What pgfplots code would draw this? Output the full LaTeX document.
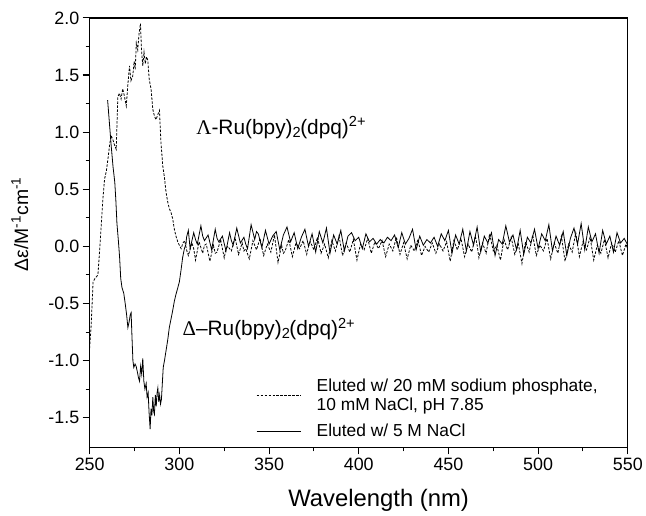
\documentclass[border=0pt]{standalone}
\usepackage{fontspec}
\setmainfont{Liberation Sans}
\newfontfamily\serifgreek{Liberation Serif}
\usepackage{pgfplots}
\pgfplotsset{compat=1.18}
\begin{document}
\begin{tikzpicture}
\begin{axis}[
  scale only axis,
  width=540bp, height=431bp,
  xmin=250, xmax=550, ymin=-1.76, ymax=2.0,
  xtick={250,300,...,550},
  ytick={-1.5,-1.0,...,2.0},
  minor x tick num=1, minor y tick num=1,
  tick pos=left, tick align=outside,
  major tick length=7bp, minor tick length=4bp,
  every tick/.style={black, line width=1.1bp},
  axis line style={line width=1.3bp},
  /pgf/number format/assume math mode=true,
  y tick label style={/pgf/number format/fixed,/pgf/number format/fixed zerofill,/pgf/number format/precision=1},
  x tick label style={/pgf/number format/1000 sep={}},
  tick label style={font=\fontsize{18}{20}\selectfont},
  xlabel={Wavelength (nm)},
  ylabel={Δε/M\textsuperscript{-1}cm\textsuperscript{-1}},
  xlabel style={font=\fontsize{24}{27}\selectfont, at={(axis description cs:0.537,0)}, anchor=center, yshift=-53bp},
  ylabel style={font=\fontsize{19.5}{22}\selectfont, at={(axis description cs:-0.13,0.52)}, anchor=center, rotate=0},
  legend style={at={(axis description cs:0.309,0.165)}, anchor=north west, draw=none, fill=none,
    font=\fontsize{17.5}{19.5}\selectfont, cells={anchor=west, align=left}, inner sep=0pt, row sep=8bp},
  legend image code/.code={\draw[#1] (0bp,0bp) -- (45bp,0bp);},
]
% Lambda isomer (dashed)
\addplot[black, line width=0.8bp, dash pattern=on 2.5bp off 1.5bp] coordinates {
(250.0,-0.89) (250.8,-0.70) (251.9,-0.31) (253.0,-0.28) (254.6,-0.25) (255.6,-0.02)
(256.5,0.20) (257.4,0.42) (258.3,0.59) (259.3,0.66) (260.3,0.78) (261.2,0.90) (262.0,0.97)
(263.0,0.93) (264.0,0.88) (264.8,0.85) (265.7,1.31) (266.6,1.34) (267.5,1.29) (268.4,1.38)
(269.3,1.32) (270.4,1.23) (271.2,1.40) (272.2,1.58) (273.0,1.45) (274.0,1.49) (274.8,1.62)
(275.4,1.55) (276.0,1.78) (276.8,1.72) (277.5,1.86) (278.3,1.95) (278.9,1.72) (279.6,1.58)
(280.3,1.70) (281.0,1.60) (281.7,1.66) (282.4,1.63) (283.2,1.46) (284.2,1.38) (285.2,1.20)
(286.1,1.14) (287.0,1.11) (287.9,1.15) (288.9,1.19) (289.7,0.92) (290.7,0.71) (291.7,0.60)
(292.6,0.47) (293.5,0.39) (294.4,0.33) (295.3,0.30) (296.3,0.24) (297.2,0.15) (298.1,0.09)
(299.1,0.04) (300.0,0.01)
(301,-0.02) (302,0.03) (303,0.05) (304,-0.03) (305,-0.08) (307,0.03) (308,-0.02) (309,-0.12) (311,0.04) (313,-0.06) (314,0.01) (315,0.02)
(317,-0.13) (319,0.01) (320,-0.06) (321,-0.05) (323,0.06) (325,-0.10) (326,-0.02) (327,0.00) (329,-0.04) (331,0.08)
(333,-0.07) (335,0.03) (336,-0.04) (337,-0.02) (339,-0.11) (341,0.05) (343,-0.03) (345,0.07) (346,-0.01) (347,-0.08)
(349,0.02) (351,-0.05) (353,0.10) (355,-0.14) (357,0.01) (358,-0.06) (359,-0.04) (361,0.06) (363,-0.09)
(365,0.03) (367,-0.02) (369,0.05) (371,-0.07) (372,0.00) (373,0.04) (375,-0.03) (377,0.08) (379,-0.06)
(381,0.02) (383,-0.10) (385,0.05) (387,-0.04) (389,0.09) (391,-0.08) (393,0.03) (395,-0.05)
(397,0.06) (399,-0.12) (401,0.02) (403,-0.03) (405,0.07) (407,-0.06) (409,0.04) (411,-0.02)
(413,0.05) (415,-0.09) (417,0.02) (419,-0.04) (421,0.08) (423,-0.07) (425,0.03) (427,-0.11)
(429,0.01) (431,-0.04) (433,0.06) (435,-0.08) (437,0.00) (439,-0.05) (441,0.03) (443,-0.06)
(445,0.02) (447,-0.04) (449,0.04) (451,-0.13) (453,0.05) (455,-0.03) (457,0.07) (459,-0.09)
(461,0.02) (463,-0.05) (465,0.09) (466,0.01) (467,-0.10) (469,0.03) (471,-0.06) (473,0.11) (475,-0.04)
(477,0.01) (479,-0.12) (481,0.06) (483,-0.03) (485,0.08) (487,-0.07) (489,0.02) (491,-0.15)
(493,0.04) (495,-0.05) (497,0.10) (499,-0.08) (501,0.01) (503,-0.04) (505,0.07) (507,-0.11)
(509,0.03) (511,-0.06) (513,0.09) (515,-0.13) (517,0.02) (519,-0.05) (521,0.12) (523,-0.09)
(525,0.04) (527,-0.03) (529,0.08) (531,-0.12) (533,0.01) (535,-0.06) (537,0.06) (539,-0.10)
(541,0.03) (543,-0.05) (545,0.05) (547,-0.08) (549,0.02) (550,-0.03)
};
\addlegendentry{\hspace*{13bp}Eluted w/ 20 mM sodium phosphate,\\\hspace*{13bp}10 mM NaCl, pH 7.85}
% Delta isomer (solid)
\addplot[black, line width=0.8bp] coordinates {
(260.0,1.28) (261.0,1.08) (262.0,0.88) (263.0,0.70) (264.0,0.56) (264.6,0.40) (265.2,0.20)
(266.0,0.05) (266.7,-0.10) (267.3,-0.28) (268.0,-0.36) (269.0,-0.41) (269.8,-0.50) (270.6,-0.60)
(271.3,-0.71) (272.0,-0.66) (272.6,-0.60) (273.1,-0.58) (273.6,-0.80) (274.1,-1.00) (274.6,-1.06)
(275.3,-1.03) (275.9,-1.05) (276.6,-1.10) (277.2,-1.15) (277.8,-1.18) (278.4,-1.05) (279.0,-1.12)
(279.6,-0.98) (280.2,-1.18) (280.8,-1.25) (281.5,-1.20) (282.0,-1.32) (282.6,-1.28) (283.1,-1.45)
(283.7,-1.60) (284.2,-1.42) (284.7,-1.48) (285.2,-1.32) (285.7,-1.45) (286.1,-1.47) (286.6,-1.30)
(287.1,-1.40) (287.6,-1.28) (288.0,-1.24) (288.5,-1.36) (289.0,-1.30) (289.5,-1.38) (290.0,-1.34)
(290.5,-1.20) (291.0,-1.06) (291.7,-1.00) (292.5,-0.92) (293.5,-0.82) (294.4,-0.71) (295.3,-0.64)
(296.3,-0.56) (297.2,-0.48) (298.1,-0.42) (299.0,-0.37) (300.0,-0.31) (301.0,-0.20) (301.8,-0.10)
(302.8,-0.02) (303.7,0.02)
(304,0.08) (305,0.14) (306,-0.02) (308,0.12) (309,0.06) (310,0.02) (312,0.18) (313,0.09) (314,0.05) (316,0.10) (318,-0.03)
(320,0.15) (321,0.07) (322,0.04) (324,0.09) (326,-0.04) (328,0.12) (329,0.05) (330,0.01) (332,0.16) (334,0.03)
(336,0.08) (337,0.02) (338,-0.02) (340,0.19) (342,0.06) (343,0.13) (344,0.11) (346,-0.01) (348,0.14) (350,0.02)
(352,0.09) (354,0.13) (356,-0.03) (358,0.10) (360,0.17) (362,0.04) (364,0.12) (366,-0.02)
(368,0.08) (370,0.15) (372,0.00) (374,0.11) (376,-0.05) (378,0.13) (380,0.03) (382,0.16)
(384,-0.06) (386,0.10) (388,0.02) (390,0.14) (392,-0.04) (394,0.09) (396,0.12) (398,0.05)
(400,0.08) (402,-0.02) (404,0.11) (406,0.04) (408,0.07) (410,0.02) (412,0.06) (414,0.03)
(416,0.08) (418,0.05) (420,0.10) (422,-0.01) (424,0.12) (426,0.02) (428,0.07) (430,0.15)
(432,-0.03) (434,0.09) (436,0.01) (438,0.06) (440,0.03) (442,0.08) (444,0.00) (446,0.11)
(448,0.05) (450,0.14) (452,-0.06) (454,0.10) (456,0.02) (458,0.15) (460,-0.04) (462,0.13)
(464,0.01) (466,0.17) (468,-0.05) (470,0.09) (472,0.03) (474,0.12) (476,-0.08) (478,0.06)
(480,0.02) (482,0.18) (484,0.04) (486,0.10) (488,-0.03) (490,0.14) (492,-0.07) (494,0.08)
(496,0.03) (498,0.15) (500,-0.02) (502,0.11) (504,0.05) (506,0.19) (508,-0.04) (510,0.09)
(512,0.01) (514,0.13) (516,-0.08) (518,0.07) (520,0.16) (522,0.02) (524,0.20) (526,-0.03)
(528,0.17) (530,0.04) (532,0.11) (534,-0.06) (536,0.14) (538,0.02) (540,0.09) (542,-0.05)
(544,0.12) (546,0.03) (548,0.07) (550,0.01)
};
\addlegendentry{\hspace*{13bp}Eluted w/ 5 M NaCl}
\node[anchor=base west, inner sep=0pt, font=\fontsize{21}{24}\selectfont] at (axis cs:309.4,0.98)
  {{\serifgreek Λ}-Ru(bpy)\textsubscript{2}\kern-1bp(dpq)\textsuperscript{2+}};
\node[anchor=base west, inner sep=0pt, font=\fontsize{21}{24}\selectfont] at (axis cs:301.7,-0.78)
  {{\serifgreek Δ}–Ru(bpy)\textsubscript{2}\kern-1bp(dpq)\textsuperscript{2+}};
\end{axis}
\path[use as bounding box] ([shift={(-90bp,-68bp)}]current axis.south west) rectangle ([shift={(16bp,18bp)}]current axis.north east);
\end{tikzpicture}
\end{document}
